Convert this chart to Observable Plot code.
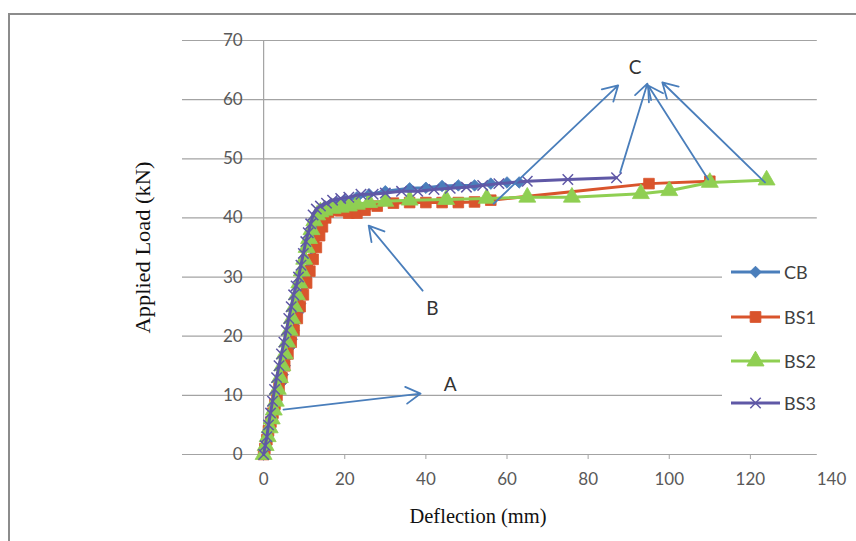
<!DOCTYPE html>
<html><head><meta charset="utf-8">
<script src="https://cdn.jsdelivr.net/npm/d3@7"></script>
<script src="https://cdn.jsdelivr.net/npm/@observablehq/plot@0.6"></script>
<style>
html,body{margin:0;padding:0;background:#fff;}
#wrap{position:relative;width:856px;height:541px;overflow:hidden;background:#fff;}
#frame{position:absolute;left:8px;top:13px;width:900px;height:600px;border:2px solid #8c8c8c;}
#chart{position:absolute;left:0;top:0;}
#legend{position:absolute;left:722px;top:255px;width:125px;height:196px;background:#fff;font-family:Lato,"Liberation Sans",sans-serif;}
.entry{position:absolute;left:0;height:24px;display:flex;align-items:center;}
.entry span{font-size:18px;color:#404040;margin-left:2px;}
</style></head><body>
<div id="wrap"><div id="frame"></div><div id="chart"></div><div id="legend"></div></div>
<script>
// ---- data ----
const seriesNames = ["CB", "BS1", "BS2", "BS3"];
const xTicks = [0, 20, 40, 60, 80, 100, 120, 140];
const xTickMarks = [20, 40, 60, 80, 100, 120];
const yTicks = [0, 10, 20, 30, 40, 50, 60, 70];

const cbX = [0,0.5,1,1.6,2.1,2.6,3.1,3.6,4.2,4.7,5.2,5.8,6.3,6.9,7.4,8,8.5,9,9.5,10,10.5,11,11.5,12,12.6,13.3,14.2,16,18,20,23,26,30,36,40,44,48,52,56,60,63];
const cbY = [0,1.5,3,4.5,6,7.5,9,10.5,12,13.5,15,16.5,18,19.5,21,22.5,24,25.5,27,28.5,30,31.5,33,35,37,39,41,42,42.6,43,43.5,44,44.5,45,45.1,45.4,45.5,45.5,45.8,46,46];

const bs1X = [0,0.3,0.8,1.2,1.8,2.3,2.8,3.3,3.8,4.5,5.2,6,6.8,7.5,8.3,9,9.8,10.6,11.4,12.2,13,13.8,14.5,15.3,16,17,19,21,23,25,28,32,36,40,44,48,52,56,95,110];
const bs1Y = [0,1,2.5,4,5.5,7,8.5,10,11.5,13,15,17,19,21,23,25,27,29,31,33,35,37,38.5,40,41,41.3,41.2,40.8,40.8,41.3,42,42.5,42.6,42.6,42.6,42.6,42.7,43,45.8,46.2];

const bs2X = [0,0.5,1,1.5,2,2.5,3,3.5,4,4.6,5.2,5.8,6.4,7,7.6,8.2,8.8,9.4,10,10.6,11.2,11.8,12.5,13.2,14,15,17,19,21,23,26,30,36,45,55,65,76,93,100,110,124];
const bs2Y = [0,1.5,3,4.5,6,7.5,9,11,13,15,17,19,21,23,25,27,29,31,33,35,36.5,38,39.5,40.5,41,41.3,41.6,41.8,42,42.3,42.6,42.8,43,43.1,43.3,43.5,43.5,44.1,44.6,46,46.4];

const bs3X = [0,0.4,0.8,1.2,1.7,2.2,2.7,3.2,3.8,4.4,5,5.6,6.2,6.8,7.4,8,8.6,9.2,9.8,10.4,11,11.6,12.2,13,14,15.5,17,19,21,24,27,30,34,38,42,46,50,54,58,65,75,87];
const bs3Y = [0,1.5,3,5,7,9,11,13,15,17,19,21,23,25,27,28.5,30,32,34,36,37.5,39,40.5,41.5,42,42.5,43,43.3,43.5,44,44,44.2,44.5,44.5,44.8,45,45.2,45.5,45.8,46.2,46.5,46.8];

// annotation arrows (data units) and letters
const arrowX1 = [4.9, 39.2, 56.7, 87.9, 109.6, 123.6];
const arrowY1 = [7.6, 27.7, 42.4, 47.7, 46.5, 46.0];
const arrowX2 = [38.7, 25.9, 87.4, 94.6, 94.8, 98.3];
const arrowY2 = [10.3, 38.7, 62.4, 62.7, 62.4, 62.9];
const noteText = ["A", "B", "C"];
const noteX = [46.0, 41.6, 91.6];
const noteY = [11.7, 24.7, 65.4];

// ---- styles ----
const colors = {CB: "#4a7ebb", BS1: "#d9542c", BS2: "#8fcf52", BS3: "#5f58a6"};
const symbols = {CB: d3.symbolDiamond2, BS1: d3.symbolSquare, BS2: d3.symbolTriangle, BS3: d3.symbolTimes};
const radius = {CB: 5.2, BS1: 6, BS2: 6.3, BS3: 4.8};

const seriesX = {CB: cbX, BS1: bs1X, BS2: bs2X, BS3: bs3X};
const seriesY = {CB: cbY, BS1: bs1Y, BS2: bs2Y, BS3: bs3Y};
const rows = name => seriesX[name].map((v, i) => ({series: name, x: v, y: seriesY[name][i]}));

const arrows = arrowX1.map((v, i) => ({x1: v, y1: arrowY1[i], x2: arrowX2[i], y2: arrowY2[i]}));
const notes = noteText.map((t, i) => ({text: t, x: noteX[i], y: noteY[i]}));

const yTitle = "Applied Load (kN)";
const xTitle = "Deflection (mm)";

const marks = [
  Plot.ruleY(yTicks, {y: d => d, x1: -20, x2: 136.5, stroke: "#a3a3a3", strokeWidth: 1.2}),
  Plot.ruleX([0], {x: d => d, y1: 0, y2: 70, stroke: "#a3a3a3", strokeWidth: 1.2}),
  Plot.axisX(xTickMarks, {tickSize: 5, tickFormat: () => "", color: "#a3a3a3", label: null}),
  Plot.axisX(xTicks, {tickSize: 0, tickPadding: 18, fontSize: 17, color: "#595959", label: null}),
  Plot.text(yTicks, {x: 0, y: d => d, text: d => String(d), dx: -21, textAnchor: "end", fontSize: 17, fill: "#595959"}),
  Plot.text([yTitle], {frameAnchor: "left", textAnchor: "middle", dx: -39, rotate: -90, fontFamily: "Liberation Serif", fontSize: 21, fill: "#111"}),
  Plot.text([xTitle], {frameAnchor: "bottom", textAnchor: "middle", dx: -29, dy: 68, fontFamily: "Liberation Serif", fontSize: 20, fill: "#111"})
];

for (const name of seriesNames) {
  const data = rows(name);
  marks.push(Plot.line(data, {x: "x", y: "y", stroke: colors[name], strokeWidth: 3}));
  if (name === "BS3") {
    marks.push(Plot.dot(data, {x: "x", y: "y", symbol: symbols[name], r: radius[name], stroke: colors[name], strokeWidth: 1.5, fill: "none"}));
  } else {
    marks.push(Plot.dot(data, {x: "x", y: "y", symbol: symbols[name], r: radius[name], fill: colors[name], stroke: colors[name], strokeWidth: 0.8}));
  }
}

marks.push(Plot.arrow(arrows, {x1: "x1", y1: "y1", x2: "x2", y2: "y2", stroke: "#4a7ebb", strokeWidth: 1.8, headLength: 14}));
marks.push(Plot.text(notes, {x: "x", y: "y", text: "text", fontSize: 19, fill: "#333"}));

const chart = Plot.plot({
  width: 856, height: 541,
  marginLeft: 182, marginRight: 25, marginTop: 40, marginBottom: 87,
  x: {domain: [-20, 140]},
  y: {domain: [0, 70], axis: null},
  style: {background: "transparent", fontFamily: "Lato, 'Liberation Sans', sans-serif"},
  marks
});
document.getElementById("chart").appendChild(chart);

// stretch the rotated axis title as in the reference
chart.querySelectorAll("text").forEach(t => {
  if (t.textContent === yTitle) { t.setAttribute("textLength", 172); t.setAttribute("lengthAdjust", "spacingAndGlyphs"); }
  if (t.textContent === xTitle) { t.setAttribute("textLength", 137); t.setAttribute("lengthAdjust", "spacingAndGlyphs"); }
});

// ---- legend ----
const legend = document.getElementById("legend");
const entryTops = [5, 50, 94, 136];
seriesNames.forEach((name, i) => {
  const div = document.createElement("div");
  div.className = "entry";
  div.style.top = entryTops[i] + "px";
  const ns = "http://www.w3.org/2000/svg";
  const svg = document.createElementNS(ns, "svg");
  svg.setAttribute("width", 60); svg.setAttribute("height", 24);
  const line = document.createElementNS(ns, "line");
  line.setAttribute("x1", 9); line.setAttribute("x2", 58); line.setAttribute("y1", 12); line.setAttribute("y2", 12);
  line.setAttribute("stroke", colors[name]); line.setAttribute("stroke-width", 3);
  svg.appendChild(line);
  const path = document.createElementNS(ns, "path");
  path.setAttribute("d", d3.symbol().type(symbols[name]).size(Math.PI * radius[name] * radius[name])());
  path.setAttribute("transform", "translate(33.5,12)");
  if (name === "BS3") { path.setAttribute("fill", "none"); path.setAttribute("stroke", colors[name]); path.setAttribute("stroke-width", 1.5); }
  else { path.setAttribute("fill", colors[name]); path.setAttribute("stroke", colors[name]); }
  svg.appendChild(path);
  div.appendChild(svg);
  const span = document.createElement("span");
  span.textContent = name;
  div.appendChild(span);
  legend.appendChild(div);
});
</script>
</body></html>
